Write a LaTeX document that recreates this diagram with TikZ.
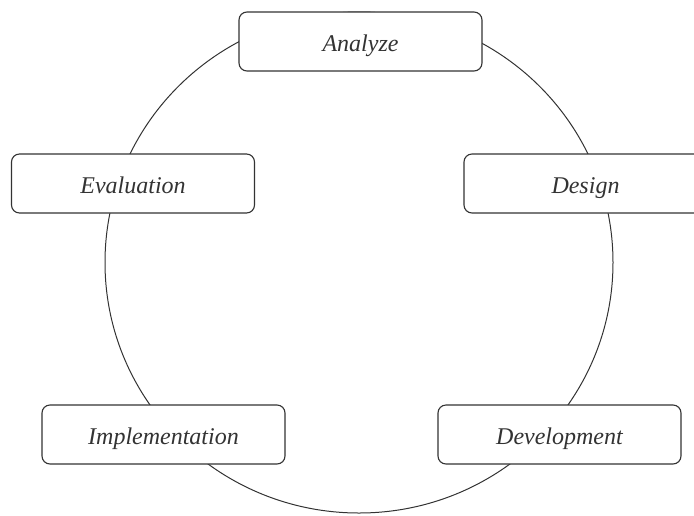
\documentclass[tikz,border=0pt]{standalone}
\usepackage{fontspec}
\setmainfont{Liberation Serif}
\usepackage{tikz}
\usetikzlibrary{positioning}
\definecolor{ink}{HTML}{333333}
\tikzset{
  box/.style={draw=ink,fill=white,line width=1.1pt,rounded corners=8pt,minimum width=243pt,minimum height=59pt,inner sep=0pt,text height=19pt,text depth=0pt,align=center,text=ink,font=\fontsize{24}{28}\selectfont\itshape},
  ring/.style={draw=ink,line width=1pt}}
\begin{document}
\begin{tikzpicture}[x=1pt,y=-1pt]
\clip (0,0) rectangle (694,515);
\coordinate (hub) at (359,262.5);
\draw[ring] (hub) ellipse [x radius=254,y radius=250.5];
\node[box] (analyze) at (360.5,41.5) {Analyze};
\node[box] (design) at (585.5,183.5) {Design};
\node[box] (development) at (559.5,434.5) {Development};
\node[box] (implementation) at (163.5,434.5) {Implementation};
\node[box] (evaluation) at (133,183.5) {Evaluation};
\end{tikzpicture}
\end{document}
